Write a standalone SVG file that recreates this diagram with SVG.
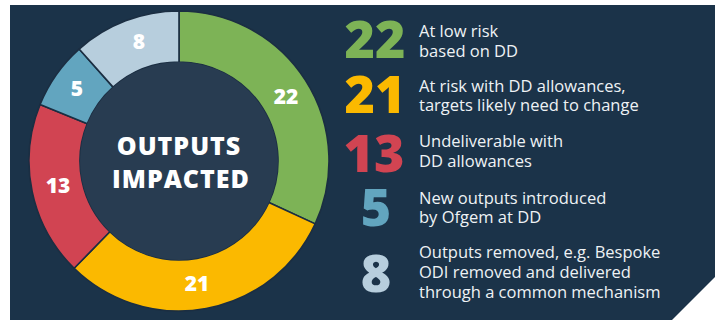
<svg xmlns="http://www.w3.org/2000/svg" width="719" height="320" viewBox="0 0 719 320">
<style>
.seg{stroke:#1b2e42;stroke-width:1.6;stroke-linejoin:round}
.lbl{font-family:"Open Sans","Liberation Sans",sans-serif;font-weight:800;font-size:21px;fill:#ffffff;text-anchor:middle}
.ctr{font-family:"Open Sans","Liberation Sans",sans-serif;font-weight:800;font-size:25px;letter-spacing:1px;fill:#ffffff;text-anchor:middle}
.big{font-family:"Open Sans","Liberation Sans",sans-serif;font-weight:800;font-size:52px;text-anchor:middle}
.desc{font-family:"Open Sans","Liberation Sans",sans-serif;font-size:16.5px;fill:#eef2f5}
</style>
<rect width="719" height="320" fill="#ffffff"/>
<polygon points="10,5 715,5 715,277 672,320 10,320" fill="#1b3349"/>
<g id="donut">
<g id="seg-green"><path class="seg" fill="#7db356" d="M179,11 A150,150 0 0 1 315.19,223.88 L268.88,202.5 A99,99 0 0 0 179,62 Z"/><text class="lbl" x="286" y="104">22</text></g>
<g id="seg-yellow"><path class="seg" fill="#fbb900" d="M315.19,223.88 A150,150 0 0 1 74.13,268.27 L109.79,231.79 A99,99 0 0 0 268.88,202.5 Z"/><text class="lbl" x="197" y="291">21</text></g>
<g id="seg-red"><path class="seg" fill="#d14452" d="M74.13,268.27 A150,150 0 0 1 40.08,104.4 L87.32,123.65 A99,99 0 0 0 109.79,231.79 Z"/><text class="lbl" x="58" y="193">13</text></g>
<g id="seg-blue"><path class="seg" fill="#62a5bf" d="M40.08,104.4 A150,150 0 0 1 79.14,49.07 L113.1,87.13 A99,99 0 0 0 87.32,123.65 Z"/><text class="lbl" x="77" y="96">5</text></g>
<g id="seg-light"><path class="seg" fill="#b7cedd" d="M79.14,49.07 A150,150 0 0 1 179,11 L179,62 A99,99 0 0 0 113.1,87.13 Z"/><text class="lbl" x="139" y="49">8</text></g>
<g id="center"><circle cx="179" cy="161" r="99" fill="#283c51"/><text class="ctr" x="179" y="155">OUTPUTS</text><text class="ctr" x="181" y="188">IMPACTED</text></g>
</g>
<g id="legend">
<g id="leg-22"><text class="big" x="375" y="58" fill="#7db356">22</text><text class="desc" x="419" y="37">At low risk</text><text class="desc" x="419" y="57">based on DD</text></g>
<g id="leg-21"><text class="big" x="375" y="113" fill="#fbb900">21</text><text class="desc" x="419" y="92">At risk with DD allowances,</text><text class="desc" x="419" y="111">targets likely need to change</text></g>
<g id="leg-13"><text class="big" x="374" y="172" fill="#d14452">13</text><text class="desc" x="419" y="147">Undeliverable with</text><text class="desc" x="419" y="167">DD allowances</text></g>
<g id="leg-5"><text class="big" x="376" y="226" fill="#62a5bf">5</text><text class="desc" x="419" y="204">New outputs introduced</text><text class="desc" x="419" y="223">by Ofgem at DD</text></g>
<g id="leg-8"><text class="big" x="376" y="292" fill="#b7cedd">8</text><text class="desc" x="419" y="258">Outputs removed, e.g. Bespoke</text><text class="desc" x="419" y="278">ODI removed and delivered</text><text class="desc" x="419" y="298">through a common mechanism</text></g>
</g>
</svg>
